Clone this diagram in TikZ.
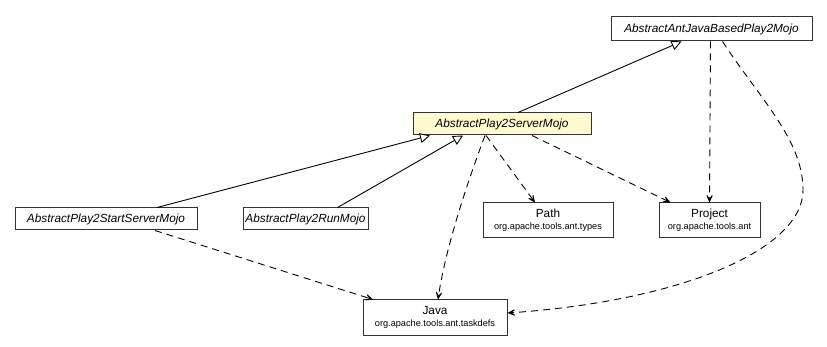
\documentclass[tikz,border=0pt]{standalone}
\usepackage{fontspec}
\setmainfont{Liberation Sans}
\usetikzlibrary{arrows.meta}
\definecolor{boxline}{RGB}{50,50,50}
\definecolor{current}{RGB}{255,250,205}
\begin{document}
\begin{tikzpicture}[x=1pt,y=-1pt,
  cls/.style={draw=boxline, line width=1pt, fill=white, inner sep=0pt, align=center},
  abs/.style={cls, font=\fontsize{11.8}{13}\selectfont\itshape},
  pkg/.style={cls, font=\fontsize{11.8}{13}\selectfont},
  inherit/.style={line width=0.9pt, -{Triangle[open, length=10pt, width=10pt, fill=white]}},
  depend/.style={line width=0.9pt, dash pattern=on 7pt off 5pt, -{Stealth[length=11pt, width=10pt, inset=7pt]}}]
\useasboundingbox (0,0) rectangle (827,347);
\newcommand{\pk}[1]{\\[-1pt]{\fontsize{9.2}{10}\selectfont #1}}

% class boxes
\node[abs, minimum width=201pt, minimum height=24pt] (ant) at (711.5,29) {AbstractAntJavaBasedPlay2Mojo};
\node[abs, fill=current, minimum width=178pt, minimum height=22pt] (server) at (502,124) {AbstractPlay2ServerMojo};
\node[abs, minimum width=182pt, minimum height=22pt] (start) at (106,219) {AbstractPlay2StartServerMojo};
\node[abs, minimum width=125pt, minimum height=22pt] (run) at (305.5,219) {AbstractPlay2RunMojo};
\node[pkg, minimum width=130pt, minimum height=35pt] (path) at (548,220.5) {Path\pk{org.apache.tools.ant.types}};
\node[pkg, minimum width=101pt, minimum height=35pt] (project) at (709.5,220.5) {Project\pk{org.apache.tools.ant}};
\node[pkg, minimum width=144pt, minimum height=35pt] (java) at (435,317.5) {Java\pk{org.apache.tools.ant.taskdefs}};

% generalisation
\draw[inherit] ([xshift=16pt]server.north) -- ([xshift=-30pt]ant.south);
\draw[inherit] ([xshift=51pt]start.north) -- ([xshift=-72pt]server.south);
\draw[inherit] ([xshift=32pt]run.north) -- ([xshift=-39pt]server.south);

% dependencies
\draw[depend] ([xshift=-16pt]server.south) -- ([xshift=-13pt]path.north);
\draw[depend] ([xshift=30pt]server.south) -- ([xshift=-39pt]project.north);
\draw[depend] ([xshift=-1pt]ant.south) -- (project.north);
\draw[depend] ([xshift=-17pt]server.south) .. controls +(-20,53) and +(7,-48) .. ([xshift=3pt]java.north);
\draw[depend] ([xshift=49pt]start.south) -- ([xshift=-62pt]java.north);
\draw[depend] ([xshift=11pt]ant.south) .. controls +(38,58) and +(0,-50) .. (803,190)
  .. controls +(0,60) and +(173,-12) .. ([yshift=4.5pt]java.east);
\end{tikzpicture}
\end{document}
